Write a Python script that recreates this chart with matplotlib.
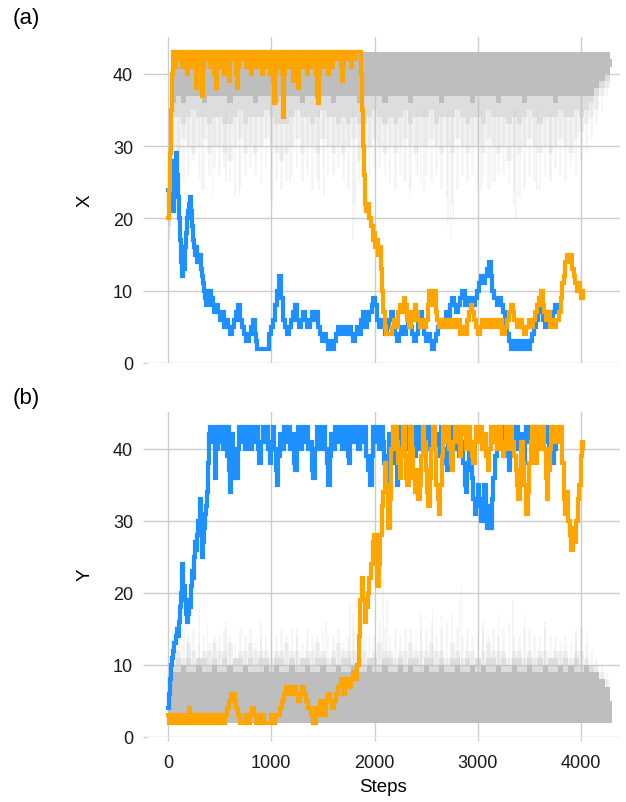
import numpy as np
import matplotlib
matplotlib.use("Agg")
import matplotlib.pyplot as plt

plt.rcParams['font.family'] = ['Liberation Sans', 'DejaVu Sans']

# ---------------- data ----------------
x_ticks = [0, 1000, 2000, 3000, 4000]
y_ticks = [0, 10, 20, 30, 40]

# gray ensemble envelopes (sampled every 50 steps, 0..4300)
gray_steps = list(range(0, 4301, 50))

gray_a_top = [27] + [43] * 85 + [42]
gray_a_core = [22, 36, 37, 36, 37, 37, 37, 36, 37, 37,
               37, 37, 36, 37, 37, 37, 37, 36, 37, 37,
               37, 36, 37, 37, 37, 37, 36, 37, 37, 37,
               37, 37, 36, 37, 37, 37, 37, 36, 37, 37,
               37, 37, 36, 37, 37, 37, 37, 36, 37, 37,
               37, 37, 37, 36, 37, 37, 37, 37, 37, 36,
               37, 37, 37, 37, 36, 37, 37, 37, 37, 36,
               37, 37, 37, 37, 37, 36, 37, 37, 37, 37,
               37, 37, 37, 38, 39, 40, 41]
gray_a_mid = [19, 34, 34, 33, 34, 35, 34, 34, 33, 34,
              34, 33, 33, 34, 35, 33, 34, 34, 34, 35,
              34, 33, 33, 33, 34, 35, 34, 34, 33, 34,
              35, 34, 34, 33, 34, 33, 34, 33, 33, 34,
              35, 34, 33, 34, 33, 34, 35, 33, 34, 34,
              34, 35, 33, 34, 34, 34, 35, 34, 33, 34,
              34, 33, 35, 34, 34, 34, 33, 34, 33, 34,
              35, 34, 33, 34, 34, 34, 35, 34, 34, 35,
              34, 35, 36, 37, 38, 39, 41]
gray_a_light = [17, 30, 29, 31, 30, 29, 30, 31, 29, 30,
                30, 29, 28, 30, 31, 29, 30, 29, 30, 31,
                30, 29, 28, 29, 30, 31, 29, 30, 30, 29,
                31, 30, 29, 30, 29, 30, 31, 28, 29, 30,
                31, 30, 29, 30, 29, 30, 31, 30, 29, 30,
                30, 31, 30, 29, 30, 29, 31, 30, 29, 30,
                30, 29, 31, 30, 29, 30, 28, 30, 29, 30,
                31, 30, 29, 30, 29, 30, 31, 30, 29, 31,
                32, 33, 34, 35, 37, 38, 41]
gray_a_faint = [16, 26, 27, 25, 26, 28, 25, 24, 26, 27,
                26, 27, 25, 23, 24, 26, 27, 26, 25, 27,
                23, 25, 24, 25, 26, 27, 25, 26, 24, 25,
                27, 26, 26, 27, 25, 24, 22, 25, 27, 26,
                27, 27, 26, 25, 24, 26, 25, 24, 26, 25,
                26, 25, 26, 24, 23, 22, 24, 26, 25, 26,
                24, 25, 24, 25, 26, 26, 25, 24, 23, 24,
                26, 25, 24, 26, 25, 27, 26, 25, 27, 26,
                28, 29, 31, 33, 35, 37, 40]
# isolated deep excursions (step, lowest value)
gray_a_spikes = [(330, 24), (430, 23), (560, 25), (690, 23), (1010, 22), (1180, 25),
                 (1460, 24), (1510, 23), (1790, 17), (1815, 19), (2290, 25), (2340, 23),
                 (2420, 26), (2480, 24), (2710, 19), (2735, 17), (2760, 20), (3030, 24),
                 (3120, 24), (3170, 25), (3350, 22), (3370, 20), (3570, 24), (3700, 26)]

gray_b_floor = [2] * 87
gray_b_core = [6, 9, 9, 10, 9, 9, 10, 9, 9, 10,
               9, 9, 10, 9, 9, 10, 9, 9, 9, 10,
               9, 10, 9, 9, 10, 9, 9, 10, 9, 9,
               10, 9, 9, 10, 9, 9, 10, 9, 9, 10,
               9, 9, 10, 9, 9, 10, 9, 10, 9, 9,
               10, 9, 9, 10, 9, 9, 10, 9, 9, 10,
               9, 10, 9, 9, 10, 9, 9, 10, 9, 9,
               10, 9, 9, 10, 9, 9, 10, 9, 10, 9,
               9, 10, 9, 9, 8, 7, 5]
gray_b_mid = [8, 10, 11, 10, 11, 10, 11, 11, 10, 11,
              10, 11, 10, 11, 11, 10, 11, 10, 11, 11,
              10, 11, 11, 10, 11, 10, 11, 11, 10, 11,
              11, 10, 11, 10, 11, 11, 10, 11, 10, 11,
              11, 10, 11, 11, 10, 11, 10, 11, 11, 10,
              11, 11, 10, 11, 10, 11, 11, 10, 11, 10,
              11, 10, 11, 11, 10, 11, 10, 11, 11, 10,
              11, 10, 11, 10, 11, 11, 10, 11, 10, 11,
              10, 10, 10, 9, 8, 7, 5]
gray_b_light = [9, 12, 12, 11, 13, 12, 11, 12, 12, 13,
                12, 12, 13, 11, 12, 12, 13, 12, 12, 12,
                11, 12, 12, 13, 12, 12, 11, 12, 12, 13,
                12, 11, 12, 13, 12, 12, 12, 13, 12, 11,
                12, 13, 12, 12, 11, 12, 12, 13, 12, 12,
                12, 13, 12, 12, 11, 13, 12, 11, 12, 12,
                11, 12, 13, 12, 12, 12, 11, 12, 12, 11,
                12, 11, 12, 12, 11, 12, 12, 12, 11, 12,
                12, 11, 10, 10, 9, 8, 5]
gray_b_faint = [11, 14, 15, 15, 14, 15, 13, 14, 13, 14,
                14, 15, 14, 13, 15, 14, 15, 13, 14, 14,
                13, 14, 15, 14, 15, 14, 13, 15, 14, 14,
                15, 14, 14, 15, 13, 14, 15, 16, 14, 14,
                14, 16, 15, 14, 15, 14, 15, 15, 14, 15,
                15, 16, 14, 15, 16, 17, 15, 14, 15, 14,
                14, 15, 14, 15, 14, 15, 16, 14, 14, 15,
                15, 14, 14, 15, 14, 14, 13, 14, 13, 14,
                15, 13, 12, 11, 10, 9, 5]
gray_b_spikes = [(190, 19.5), (300, 18), (380, 16), (560, 16), (900, 16), (1250, 15),
                 (1530, 16), (1760, 18.5), (1790, 17), (2080, 22), (2120, 19), (2450, 17),
                 (2560, 18), (2650, 17), (2820, 19), (2843, 21), (3050, 16), (3200, 17),
                 (3340, 19), (3450, 17), (3650, 16), (3950, 15), (4060, 15)]

# highlighted trajectories: (step, value)
blue_a = [(0, 24), (10, 22), (20, 26), (30, 28), (40, 25), (50, 21), (60, 25), (70, 27), (80, 29),
          (90, 26), (100, 23), (110, 20), (120, 17), (130, 14), (140, 12), (150, 13), (160, 16),
          (170, 18), (180, 20), (190, 21), (200, 22), (210, 23), (220, 21), (230, 19), (240, 17),
          (250, 16), (260, 15), (270, 16), (280, 14), (290, 15), (300, 14), (310, 15), (320, 13),
          (330, 12), (340, 11), (350, 10), (360, 9), (370, 8), (380, 9), (390, 10), (400, 9),
          (410, 10), (420, 8), (430, 9), (440, 8), (450, 7), (460, 8), (480, 7), (500, 6), (520, 7),
          (540, 5), (560, 6), (580, 5), (600, 4), (620, 5), (640, 6), (660, 7), (680, 8), (700, 6),
          (720, 5), (740, 4), (760, 3), (780, 4), (800, 5), (820, 6), (840, 4), (850, 3), (860, 2),
          (970, 2), (980, 4), (1000, 5), (1020, 6), (1040, 8), (1060, 10), (1075, 12), (1090, 9),
          (1110, 6), (1130, 5), (1150, 4), (1170, 5), (1190, 6), (1210, 7), (1230, 8), (1250, 6),
          (1270, 5), (1290, 6), (1310, 7), (1330, 6), (1350, 5), (1370, 6), (1390, 7), (1410, 6),
          (1430, 7), (1450, 5), (1470, 4), (1490, 3), (1510, 4), (1530, 3), (1550, 2), (1570, 3),
          (1590, 2), (1610, 3), (1630, 4), (1650, 5), (1670, 4), (1690, 5), (1730, 4), (1750, 5),
          (1770, 4), (1790, 3), (1810, 4), (1830, 5), (1850, 4), (1870, 6), (1890, 7), (1910, 5),
          (1930, 6), (1950, 7), (1970, 8), (1985, 9), (2000, 8), (2020, 6), (2040, 5), (2060, 6),
          (2080, 5), (2100, 4), (2120, 5), (2140, 6), (2160, 7), (2180, 6), (2200, 4), (2220, 3),
          (2240, 4), (2260, 5), (2280, 4), (2300, 5), (2320, 6), (2340, 5), (2360, 4), (2380, 3),
          (2400, 4), (2420, 6), (2440, 7), (2460, 5), (2480, 4), (2500, 3), (2520, 4), (2540, 3),
          (2555, 2), (2570, 3), (2590, 4), (2610, 5), (2630, 6), (2650, 5), (2670, 6), (2690, 7),
          (2710, 6), (2730, 8), (2750, 9), (2770, 8), (2790, 7), (2810, 8), (2830, 9), (2850, 10),
          (2870, 8), (2890, 9), (2910, 8), (2930, 9), (2950, 8), (2970, 9), (2990, 10), (3010, 11),
          (3030, 12), (3050, 11), (3070, 12), (3090, 13), (3110, 14), (3125, 12), (3140, 10),
          (3160, 9), (3180, 8), (3200, 9), (3220, 8), (3240, 7), (3260, 5), (3280, 4), (3300, 3),
          (3320, 2), (3340, 3), (3360, 2), (3380, 3), (3400, 2), (3420, 3), (3440, 2), (3460, 3),
          (3480, 2), (3500, 3), (3520, 4), (3540, 5), (3560, 6), (3580, 7), (3600, 9), (3615, 8),
          (3630, 6), (3650, 5), (3670, 6), (3690, 7), (3710, 6), (3730, 7), (3750, 8), (3770, 7),
          (3775, 7)]

orange_a = [(0, 20), (10, 24), (20, 29), (30, 35), (40, 40), (50, 43), (70, 41), (80, 43), (110, 42),
            (120, 43), (140, 41), (150, 43), (180, 40), (190, 43), (220, 41), (230, 43), (260, 42),
            (270, 38), (280, 42), (290, 43), (320, 40), (330, 37), (340, 41), (350, 43), (380, 42),
            (390, 43), (410, 41), (420, 43), (450, 40), (460, 38), (470, 42), (480, 43), (510, 41),
            (520, 43), (540, 40), (550, 43), (580, 41), (590, 39), (600, 43), (630, 42), (640, 43),
            (660, 40), (670, 38), (680, 41), (690, 43), (720, 42), (730, 43), (760, 41), (770, 43),
            (800, 40), (810, 42), (820, 43), (850, 41), (860, 43), (900, 42), (910, 40), (920, 43),
            (950, 41), (960, 43), (990, 40), (1000, 43), (1020, 39), (1030, 36), (1040, 40),
            (1050, 43), (1070, 41), (1080, 43), (1100, 40), (1110, 37), (1115, 34), (1125, 40),
            (1135, 43), (1160, 41), (1170, 43), (1200, 42), (1210, 39), (1220, 43), (1250, 40),
            (1260, 38), (1270, 42), (1280, 43), (1310, 41), (1320, 43), (1350, 40), (1360, 43),
            (1390, 41), (1400, 43), (1430, 40), (1440, 37), (1450, 36), (1460, 40), (1470, 43),
            (1500, 41), (1510, 43), (1540, 42), (1550, 40), (1560, 43), (1590, 41), (1600, 43),
            (1630, 42), (1640, 43), (1670, 41), (1680, 39), (1690, 41), (1700, 43), (1730, 42),
            (1740, 43), (1770, 41), (1780, 43), (1810, 42), (1820, 43), (1860, 43), (1870, 40),
            (1880, 35), (1890, 30), (1900, 26), (1910, 22), (1920, 21), (1935, 22), (1950, 20),
            (1965, 19), (1980, 17), (1995, 18), (2005, 16), (2020, 17), (2035, 15), (2050, 16),
            (2060, 13), (2070, 10), (2085, 7), (2100, 5), (2115, 4), (2150, 4), (2165, 5), (2190, 6),
            (2210, 5), (2230, 7), (2250, 8), (2265, 7), (2280, 9), (2295, 8), (2310, 6), (2330, 5),
            (2350, 7), (2370, 6), (2390, 8), (2405, 7), (2420, 6), (2440, 5), (2460, 6), (2480, 5),
            (2500, 6), (2515, 8), (2530, 10), (2545, 8), (2560, 9), (2575, 10), (2590, 7), (2605, 6),
            (2620, 5), (2640, 6), (2660, 5), (2690, 6), (2720, 5), (2750, 6), (2770, 5), (2800, 6),
            (2830, 4), (2850, 5), (2870, 4), (2890, 6), (2910, 7), (2930, 8), (2945, 7), (2960, 6),
            (2980, 5), (3000, 4), (3020, 5), (3040, 6), (3060, 5), (3090, 6), (3120, 5), (3150, 6),
            (3180, 5), (3210, 6), (3230, 4), (3260, 5), (3280, 6), (3300, 7), (3320, 8), (3335, 7),
            (3350, 6), (3380, 5), (3410, 6), (3430, 5), (3450, 4), (3470, 5), (3490, 6), (3510, 5),
            (3530, 6), (3550, 7), (3570, 8), (3590, 9), (3610, 10), (3625, 8), (3640, 7), (3660, 6),
            (3680, 7), (3700, 5), (3720, 6), (3740, 5), (3760, 6), (3780, 7), (3800, 9), (3815, 11),
            (3830, 12), (3845, 14), (3860, 15), (3880, 14), (3895, 15), (3910, 13), (3925, 12),
            (3940, 11), (3955, 10), (3970, 11), (3985, 10), (4000, 9), (4010, 10), (4020, 9)]

blue_b = [(0, 4), (10, 6), (20, 8), (30, 10), (40, 11), (50, 12), (60, 13), (80, 14), (90, 15),
          (100, 14), (110, 16), (120, 18), (130, 20), (140, 24), (150, 21), (160, 19), (170, 17),
          (180, 16), (190, 17), (200, 19), (210, 18), (220, 21), (230, 23), (240, 22), (250, 25),
          (260, 27), (270, 26), (280, 28), (290, 30), (300, 29), (310, 33), (320, 28), (330, 25),
          (340, 27), (350, 29), (360, 31), (370, 32), (380, 34), (390, 38), (400, 42), (410, 43),
          (430, 41), (445, 43), (455, 36), (465, 40), (480, 43), (500, 41), (515, 43), (535, 40),
          (550, 43), (570, 39), (585, 43), (595, 37), (600, 34), (610, 38), (620, 42), (630, 36),
          (645, 40), (660, 36), (675, 40), (690, 43), (710, 41), (725, 43), (745, 40), (760, 43),
          (780, 42), (795, 40), (810, 43), (830, 41), (850, 43), (870, 40), (885, 38), (900, 41),
          (915, 43), (935, 41), (950, 43), (970, 40), (985, 38), (1000, 41), (1015, 43), (1030, 40),
          (1045, 37), (1055, 35), (1065, 39), (1080, 42), (1100, 40), (1120, 43), (1140, 41),
          (1160, 43), (1180, 40), (1200, 42), (1215, 38), (1230, 37), (1245, 41), (1260, 43),
          (1280, 40), (1300, 43), (1320, 41), (1340, 43), (1360, 40), (1380, 41), (1395, 37),
          (1405, 36), (1420, 40), (1440, 43), (1460, 41), (1480, 40), (1500, 43), (1520, 40),
          (1535, 38), (1550, 35), (1565, 39), (1580, 42), (1600, 40), (1620, 43), (1640, 41),
          (1660, 43), (1680, 40), (1700, 42), (1720, 43), (1740, 39), (1750, 38), (1765, 41),
          (1780, 43), (1800, 41), (1820, 43), (1840, 40), (1860, 43), (1880, 41), (1900, 43),
          (1920, 39), (1940, 37), (1955, 35), (1970, 39), (1985, 43), (2000, 41), (2020, 43),
          (2040, 40), (2060, 43), (2080, 41), (2095, 38), (2110, 35), (2125, 39), (2140, 42),
          (2160, 40), (2180, 43), (2200, 38), (2213, 35), (2225, 39), (2240, 43), (2260, 41),
          (2280, 43), (2300, 40), (2320, 43), (2340, 41), (2360, 43), (2380, 39), (2400, 41),
          (2420, 43), (2440, 40), (2460, 42), (2480, 43), (2500, 41), (2520, 43), (2540, 40),
          (2560, 43), (2580, 41), (2600, 39), (2620, 42), (2640, 43), (2660, 40), (2680, 38),
          (2700, 37), (2715, 41), (2735, 43), (2755, 40), (2775, 43), (2795, 41), (2815, 39),
          (2835, 41), (2855, 38), (2870, 35), (2880, 34), (2895, 37), (2910, 40), (2925, 38),
          (2940, 36), (2955, 33), (2970, 31), (2985, 33), (3000, 35), (3015, 32), (3030, 30),
          (3045, 33), (3060, 35), (3075, 31), (3090, 29), (3105, 32), (3120, 29), (3135, 33),
          (3150, 36), (3165, 39), (3180, 42), (3200, 43), (3220, 40), (3240, 43), (3260, 41),
          (3280, 39), (3300, 37), (3315, 40), (3330, 43), (3350, 41), (3370, 43), (3390, 40),
          (3410, 42), (3430, 39), (3440, 38), (3455, 41), (3470, 43), (3490, 41), (3510, 43),
          (3530, 40), (3550, 43), (3570, 41), (3590, 43), (3610, 40), (3630, 43), (3650, 41),
          (3670, 43), (3690, 40), (3710, 41), (3725, 38), (3740, 41), (3760, 40)]

orange_b = [(0, 3), (10, 2), (30, 3), (50, 2), (70, 3), (90, 2), (110, 3), (130, 2), (150, 3),
            (170, 2), (190, 3), (200, 4), (210, 2), (230, 3), (250, 2), (270, 3), (290, 2), (310, 3),
            (330, 2), (350, 3), (370, 2), (390, 3), (410, 2), (430, 3), (450, 2), (470, 3), (490, 2),
            (510, 3), (530, 2), (550, 3), (570, 4), (590, 5), (610, 6), (630, 6), (650, 5), (660, 4),
            (680, 3), (700, 2), (750, 3), (770, 2), (790, 3), (810, 4), (830, 3), (850, 2), (870, 3),
            (890, 2), (910, 3), (930, 2), (1000, 3), (1020, 2), (1040, 3), (1080, 4), (1100, 5),
            (1120, 6), (1140, 7), (1160, 6), (1180, 7), (1200, 6), (1220, 7), (1240, 6), (1260, 5),
            (1280, 6), (1300, 7), (1320, 6), (1340, 5), (1360, 4), (1380, 3), (1400, 2), (1430, 4),
            (1450, 3), (1470, 5), (1490, 4), (1510, 3), (1530, 5), (1550, 6), (1570, 5), (1590, 4),
            (1610, 5), (1630, 6), (1650, 7), (1670, 8), (1690, 6), (1710, 7), (1730, 8), (1750, 7),
            (1770, 8), (1790, 9), (1810, 8), (1830, 10), (1845, 14), (1860, 19), (1875, 22),
            (1890, 19), (1905, 16), (1920, 18), (1935, 20), (1950, 22), (1965, 24), (1980, 27),
            (1995, 28), (2010, 25), (2025, 21), (2040, 24), (2055, 28), (2070, 32), (2085, 34),
            (2100, 38), (2115, 35), (2130, 29), (2145, 33), (2160, 40), (2175, 43), (2190, 40),
            (2200, 43), (2215, 41), (2230, 38), (2246, 36), (2260, 40), (2275, 43), (2290, 39),
            (2305, 36), (2315, 35), (2330, 39), (2345, 43), (2360, 40), (2375, 36), (2390, 34),
            (2405, 37), (2420, 33), (2435, 35), (2450, 39), (2465, 43), (2480, 41), (2495, 37),
            (2510, 34), (2520, 32), (2535, 36), (2550, 40), (2565, 43), (2580, 40), (2595, 35),
            (2610, 33), (2620, 31), (2635, 35), (2650, 39), (2665, 43), (2685, 41), (2700, 43),
            (2720, 40), (2735, 38), (2745, 37), (2760, 41), (2775, 43), (2795, 41), (2810, 43),
            (2825, 39), (2840, 42), (2860, 43), (2880, 40), (2900, 43), (2920, 41), (2940, 39),
            (2955, 38), (2970, 41), (2985, 43), (3005, 41), (3020, 43), (3040, 40), (3060, 42),
            (3080, 39), (3095, 37), (3110, 40), (3125, 43), (3145, 41), (3165, 43), (3185, 40),
            (3205, 43), (3225, 41), (3240, 39), (3255, 41), (3270, 43), (3290, 40), (3310, 43),
            (3330, 41), (3350, 39), (3365, 37), (3380, 35), (3390, 33), (3405, 37), (3420, 41),
            (3435, 38), (3450, 35), (3465, 31), (3480, 34), (3495, 38), (3510, 41), (3525, 43),
            (3540, 40), (3555, 38), (3570, 41), (3585, 43), (3605, 40), (3620, 43), (3640, 40),
            (3655, 36), (3665, 33), (3680, 37), (3695, 40), (3710, 43), (3730, 41), (3750, 43),
            (3775, 41), (3790, 43), (3805, 43), (3815, 38), (3830, 33), (3845, 31), (3860, 34),
            (3875, 30), (3890, 28), (3905, 26), (3920, 29), (3935, 27), (3950, 30), (3965, 33),
            (3980, 35), (3995, 39), (4010, 41), (4020, 40)]

# ---------------- styling ----------------
GRAY = '#bebebe'
BLUE = '#1e90ff'
ORANGE = '#ffa500'
GRID = '#cdcdcd'

W, H = 626, 803
fig = plt.figure(figsize=(W / 100, H / 100), dpi=100)


def axrect(l, t, r, b):
    return [l / W, 1 - b / H, (r - l) / W, (b - t) / H]


ax_a = fig.add_axes(axrect(147, 38, 620, 364))
ax_b = fig.add_axes(axrect(147, 413, 620, 738))


def draw_band(ax, lows, highs, alpha):
    ax.fill_between(gray_steps, lows, highs, step='mid', color=GRAY, alpha=alpha,
                    linewidth=0, zorder=1)


def draw_streaks(ax, steps, lows, highs, width, alpha):
    lo = np.asarray(lows, dtype=float)
    hi = np.asarray(highs, dtype=float)
    ax.bar(steps, hi - lo, bottom=lo, width=width, color=GRAY, alpha=alpha,
           linewidth=0, zorder=1)


def draw_traj(ax, pts, color):
    s = [p[0] for p in pts]
    v = [p[1] for p in pts]
    ax.plot(s, v, drawstyle='steps-post', color=color, lw=3.0, zorder=3,
            solid_joinstyle='miter')


# panel (a)
sa = [p[0] for p in gray_a_spikes]
va = [p[1] for p in gray_a_spikes]
draw_streaks(ax_a, sa, va, [35] * len(sa), 14, 0.15)
draw_streaks(ax_a, gray_steps[1:-1], gray_a_faint[1:-1], gray_a_mid[1:-1], 26, 0.13)
draw_band(ax_a, gray_a_light, gray_a_top, 0.2)
draw_band(ax_a, gray_a_mid, gray_a_top, 0.4)
draw_band(ax_a, gray_a_core, gray_a_top, 1.0)
draw_traj(ax_a, blue_a, BLUE)
draw_traj(ax_a, orange_a, ORANGE)

# panel (b)
sb = [p[0] for p in gray_b_spikes]
vb = [p[1] for p in gray_b_spikes]
draw_streaks(ax_b, sb, [9] * len(sb), vb, 14, 0.15)
draw_streaks(ax_b, gray_steps[1:-1], gray_b_mid[1:-1], gray_b_faint[1:-1], 26, 0.13)
draw_band(ax_b, gray_b_floor, gray_b_light, 0.2)
draw_band(ax_b, gray_b_floor, gray_b_mid, 0.4)
draw_band(ax_b, gray_b_floor, gray_b_core, 1.0)
draw_traj(ax_b, blue_b, BLUE)
draw_traj(ax_b, orange_b, ORANGE)

for ax in (ax_a, ax_b):
    ax.set_xlim(-203, 4375)
    ax.set_ylim(0, 45.1)
    ax.set_xticks(x_ticks)
    ax.set_yticks(y_ticks)
    for sp in ax.spines.values():
        sp.set_visible(False)
    ax.grid(True, color=GRID, lw=1.0, zorder=0)
    ax.set_axisbelow(True)
    ax.tick_params(axis='both', colors=GRID, length=3, width=1.0, labelcolor='#1a1a1a',
                   labelsize=13)
    ax.tick_params(axis='y', pad=7)
    ax.tick_params(axis='x', pad=9)

ax_a.set_xticklabels([])
ax_a.tick_params(axis='x', length=0)

fig.text(13 / W, 1 - 8 / H, '(a)', fontsize=16, ha='left', va='top')
fig.text(13 / W, 1 - 388 / H, '(b)', fontsize=16, ha='left', va='top')
fig.text(85 / W, 1 - 201 / H, 'X', fontsize=13.5, rotation=90, ha='center', va='center')
fig.text(85 / W, 1 - 575 / H, 'Y', fontsize=13.5, rotation=90, ha='center', va='center')
fig.text(383 / W, 1 - 788 / H, 'Steps', fontsize=13.5, ha='center', va='center')

fig.savefig('out.png', dpi=100)
